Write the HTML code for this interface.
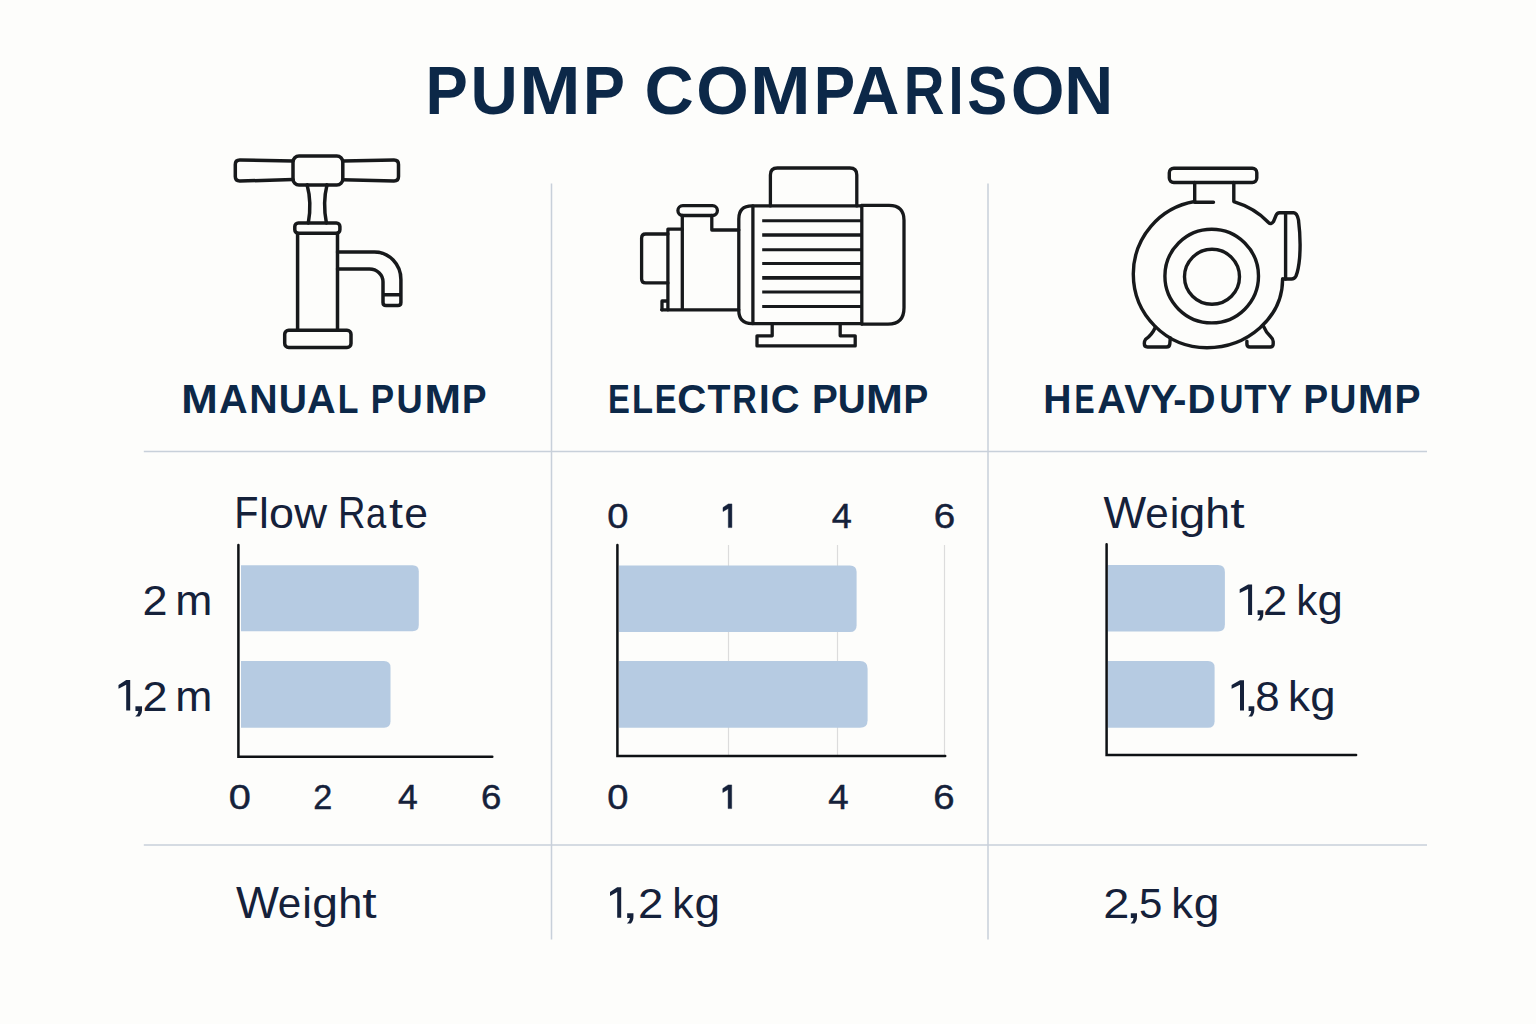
<!DOCTYPE html>
<html>
<head>
<meta charset="utf-8">
<style>
html,body{margin:0;padding:0;background:#fdfdfb;}
body{width:1536px;height:1024px;overflow:hidden;}
svg{display:block;}
text{font-family:"Liberation Sans",sans-serif;}
.hd text{fill:#0c2848;}
.bd text,.bd .t1{fill:#15213a;}
.tk text,.tk .t1{stroke:#15213a;stroke-width:0.45;}
.b{font-weight:bold;}
.ic{fill:none;stroke:#17191b;stroke-width:3.5;stroke-linejoin:round;stroke-linecap:round;}
.dv{stroke:#c8d0da;stroke-width:1.5;fill:none;}
.ax{stroke:#0e1114;stroke-width:2.5;fill:none;stroke-linecap:round;}
.gr{stroke:#dcdcdc;stroke-width:1.2;fill:none;}
.bar{fill:#b6cbe2;}
</style>
</head>
<body>
<svg width="1536" height="1024" viewBox="0 0 1536 1024">
<rect x="0" y="0" width="1536" height="1024" fill="#fdfdfb"/>

<!-- TITLE -->
<g class="hd">
<text class="b" font-size="68.9" transform="translate(425.56,113.60) scale(0.9207,1)">P</text>
<text class="b" font-size="68.9" transform="translate(470.47,113.60) scale(0.9490,1)">U</text>
<text class="b" font-size="68.9" transform="translate(519.37,113.60) scale(1.0690,1)">M</text>
<text class="b" font-size="68.9" transform="translate(582.89,113.60) scale(0.9130,1)">P</text>
<text class="b" font-size="68.9" transform="translate(644.50,113.60) scale(0.9901,1)">C</text>
<text class="b" font-size="68.9" transform="translate(696.13,113.60) scale(0.9797,1)">O</text>
<text class="b" font-size="68.9" transform="translate(750.03,113.60) scale(1.0565,1)">M</text>
<text class="b" font-size="68.9" transform="translate(813.85,113.60) scale(0.9002,1)">P</text>
<text class="b" font-size="68.9" transform="translate(851.45,113.60) scale(0.9627,1)">A</text>
<text class="b" font-size="68.9" transform="translate(903.73,113.60) scale(0.8186,1)">R</text>
<text class="b" font-size="68.9" transform="translate(948.38,113.60) scale(0.7859,1)">I</text>
<text class="b" font-size="68.9" transform="translate(967.37,113.60) scale(0.8697,1)">S</text>
<text class="b" font-size="68.9" transform="translate(1010.76,113.60) scale(1.0047,1)">O</text>
<text class="b" font-size="68.9" transform="translate(1064.16,113.60) scale(0.9850,1)">N</text>
<text class="b" font-size="40.5" transform="translate(181.26,413.10) scale(1.0841,1)">M</text>
<text class="b" font-size="40.5" transform="translate(219.11,413.10) scale(0.9790,1)">A</text>
<text class="b" font-size="40.5" transform="translate(249.27,413.10) scale(0.9702,1)">N</text>
<text class="b" font-size="40.5" transform="translate(278.65,413.10) scale(0.9653,1)">U</text>
<text class="b" font-size="40.5" transform="translate(307.11,413.10) scale(0.9790,1)">A</text>
<text class="b" font-size="40.5" transform="translate(337.63,413.10) scale(0.8372,1)">L</text>
<text class="b" font-size="40.5" transform="translate(370.86,413.10) scale(0.8639,1)">P</text>
<text class="b" font-size="40.5" transform="translate(396.62,413.10) scale(0.8955,1)">U</text>
<text class="b" font-size="40.5" transform="translate(424.46,413.10) scale(1.0841,1)">M</text>
<text class="b" font-size="40.5" transform="translate(461.94,413.10) scale(0.9075,1)">P</text>
<text class="b" font-size="40.5" transform="translate(608.01,413.10) scale(0.8098,1)">E</text>
<text class="b" font-size="40.5" transform="translate(631.99,413.10) scale(0.8516,1)">L</text>
<text class="b" font-size="40.5" transform="translate(654.82,413.10) scale(0.8054,1)">E</text>
<text class="b" font-size="40.5" transform="translate(677.15,413.10) scale(0.9932,1)">C</text>
<text class="b" font-size="40.5" transform="translate(707.48,413.10) scale(0.9267,1)">T</text>
<text class="b" font-size="40.5" transform="translate(732.22,413.10) scale(0.8402,1)">R</text>
<text class="b" font-size="40.5" transform="translate(758.95,413.10) scale(0.9428,1)">I</text>
<text class="b" font-size="40.5" transform="translate(770.76,413.10) scale(0.9857,1)">C</text>
<text class="b" font-size="40.5" transform="translate(811.91,413.10) scale(0.9555,1)">P</text>
<text class="b" font-size="40.5" transform="translate(837.87,413.10) scale(0.9571,1)">U</text>
<text class="b" font-size="40.5" transform="translate(866.03,413.10) scale(1.0947,1)">M</text>
<text class="b" font-size="40.5" transform="translate(903.62,413.10) scale(0.9162,1)">P</text>
<text class="b" font-size="40.5" transform="translate(1043.28,413.10) scale(0.9660,1)">H</text>
<text class="b" font-size="40.5" transform="translate(1074.48,413.10) scale(0.7438,1)">E</text>
<text class="b" font-size="40.5" transform="translate(1097.31,413.10) scale(0.9790,1)">A</text>
<text class="b" font-size="40.5" transform="translate(1124.13,413.10) scale(0.9675,1)">V</text>
<text class="b" font-size="40.5" transform="translate(1150.00,413.10) scale(1.0129,1)">Y</text>
<text class="b" font-size="40.5" transform="translate(1173.26,413.10) scale(0.9725,1)">-</text>
<text class="b" font-size="40.5" transform="translate(1187.40,413.10) scale(0.9582,1)">D</text>
<text class="b" font-size="40.5" transform="translate(1219.61,413.10) scale(0.8175,1)">U</text>
<text class="b" font-size="40.5" transform="translate(1244.29,413.10) scale(0.9015,1)">T</text>
<text class="b" font-size="40.5" transform="translate(1267.27,413.10) scale(0.9155,1)">Y</text>
<text class="b" font-size="40.5" transform="translate(1303.43,413.10) scale(0.9119,1)">P</text>
<text class="b" font-size="40.5" transform="translate(1329.46,413.10) scale(0.9202,1)">U</text>
<text class="b" font-size="40.5" transform="translate(1357.73,413.10) scale(1.0594,1)">M</text>
<text class="b" font-size="40.5" transform="translate(1394.49,413.10) scale(0.9642,1)">P</text>
</g>
<g class="bd">
<text font-size="44.3" transform="translate(234.24,527.60) scale(0.8960,1)">F</text>
<text font-size="44.3" transform="translate(258.91,527.60) scale(1.0017,0.94)">l</text>
<text font-size="44.3" transform="translate(268.91,527.60) scale(1.0135,0.94)">o</text>
<text font-size="44.3" transform="translate(294.17,527.60) scale(1.0260,0.94)">w</text>
<text font-size="44.3" transform="translate(337.98,527.60) scale(0.8592,1)">R</text>
<text font-size="44.3" transform="translate(366.05,527.60) scale(0.8218,0.94)">a</text>
<text font-size="44.3" transform="translate(389.04,527.60) scale(1.1403,0.94)">t</text>
<text font-size="44.3" transform="translate(404.19,527.60) scale(0.9621,0.94)">e</text>
<text font-size="44.3" transform="translate(1103.50,527.60) scale(1.0201,1)">W</text>
<text font-size="44.3" transform="translate(1145.21,527.60) scale(0.9525,0.94)">e</text>
<text font-size="44.3" transform="translate(1169.81,527.60) scale(0.9760,0.94)">i</text>
<text font-size="44.3" transform="translate(1179.11,527.60) scale(1.0692,0.94)">g</text>
<text font-size="44.3" transform="translate(1205.21,527.60) scale(1.0059,0.94)">h</text>
<text font-size="44.3" transform="translate(1230.32,527.60) scale(1.1668,0.94)">t</text>
<text font-size="44.3" transform="translate(235.90,917.60) scale(1.0273,1)">W</text>
<text font-size="44.3" transform="translate(277.71,917.60) scale(0.9525,0.94)">e</text>
<text font-size="44.3" transform="translate(302.21,917.60) scale(0.9760,0.94)">i</text>
<text font-size="44.3" transform="translate(312.16,917.60) scale(1.0441,0.94)">g</text>
<text font-size="44.3" transform="translate(338.29,917.60) scale(0.9792,0.94)">h</text>
<text font-size="44.3" transform="translate(362.32,917.60) scale(1.1668,0.94)">t</text>
<text font-size="44.3" transform="translate(142.54,614.80) scale(1.0158,0.975)">2</text>
<text font-size="44.3" transform="translate(175.34,614.80) scale(1.0051,0.94)">m</text>
<path class="t1" d="M126.20,680.05 L130.20,680.05 L130.20,710.50 L126.20,710.50 L126.20,684.70 L118.50,688.70 L118.50,684.90 Z"/>
<text font-size="44.3" transform="translate(129.08,710.50) scale(1.5640,1)">,</text>
<text font-size="44.3" transform="translate(142.54,710.50) scale(1.0158,0.975)">2</text>
<text font-size="44.3" transform="translate(175.34,710.50) scale(1.0051,0.94)">m</text>
<path class="t1" d="M1248.10,584.45 L1252.10,584.45 L1252.10,614.90 L1248.10,614.90 L1248.10,589.10 L1239.70,593.10 L1239.70,589.30 Z"/>
<text font-size="44.3" transform="translate(1252.10,614.90) scale(1.3570,1)">,</text>
<text font-size="44.3" transform="translate(1263.11,614.90) scale(0.9811,0.975)">2</text>
<text font-size="44.3" transform="translate(1296.16,614.90) scale(0.9516,0.94)">k</text>
<text font-size="44.3" transform="translate(1317.59,614.90) scale(1.0290,0.94)">g</text>
<path class="t1" d="M1240.00,680.15 L1244.00,680.15 L1244.00,710.60 L1240.00,710.60 L1240.00,684.80 L1231.60,688.80 L1231.60,685.00 Z"/>
<text font-size="44.3" transform="translate(1243.00,710.60) scale(1.3570,1)">,</text>
<text font-size="44.3" transform="translate(1255.29,710.60) scale(0.9910,0.975)">8</text>
<text font-size="44.3" transform="translate(1287.94,710.60) scale(0.9932,0.94)">k</text>
<text font-size="44.3" transform="translate(1310.29,710.60) scale(1.0290,0.94)">g</text>
<path class="t1" d="M617.20,887.25 L621.20,887.25 L621.20,917.70 L617.20,917.70 L617.20,891.90 L610.00,895.90 L610.00,892.10 Z"/>
<text font-size="44.3" transform="translate(620.95,917.70) scale(1.4950,1)">,</text>
<text font-size="44.3" transform="translate(637.91,917.70) scale(1.0257,0.975)">2</text>
<text font-size="44.3" transform="translate(672.31,917.70) scale(0.9672,0.94)">k</text>
<text font-size="44.3" transform="translate(694.57,917.70) scale(1.0391,0.94)">g</text>
<text font-size="44.3" transform="translate(1103.24,917.70) scale(1.0604,0.975)">2</text>
<text font-size="44.3" transform="translate(1124.64,917.70) scale(1.4720,1)">,</text>
<text font-size="44.3" transform="translate(1139.02,917.70) scale(0.9475,0.975)">5</text>
<text font-size="44.3" transform="translate(1171.17,917.70) scale(0.9828,0.94)">k</text>
<text font-size="44.3" transform="translate(1193.76,917.70) scale(1.0441,0.94)">g</text>
</g><g class="bd tk">
<text font-size="34.6" transform="translate(228.75,808.60) scale(1.1487,1)">0</text>
<text font-size="34.6" transform="translate(313.18,808.60) scale(0.9897,1)">2</text>
<text font-size="34.6" transform="translate(398.08,808.60) scale(1.0267,1)">4</text>
<text font-size="34.6" transform="translate(481.04,808.60) scale(1.0585,1)">6</text>
<text font-size="34.6" transform="translate(607.21,527.60) scale(1.1004,1)">0</text>
<path class="t1" d="M728.30,503.90 L731.90,503.90 L731.90,527.60 L728.30,527.60 L728.30,508.40 L723.00,511.50 L723.00,507.50 Z"/>
<text font-size="34.6" transform="translate(831.67,527.60) scale(1.0439,1)">4</text>
<text font-size="34.6" transform="translate(933.64,527.60) scale(1.1149,1)">6</text>
<text font-size="34.6" transform="translate(607.21,808.60) scale(1.1004,1)">0</text>
<path class="t1" d="M728.10,784.90 L731.70,784.90 L731.70,808.60 L728.10,808.60 L728.10,789.40 L722.80,792.50 L722.80,788.50 Z"/>
<text font-size="34.6" transform="translate(828.16,808.60) scale(1.0611,1)">4</text>
<text font-size="34.6" transform="translate(933.25,808.60) scale(1.1087,1)">6</text>
</g>


<!-- DIVIDERS -->
<path class="dv" d="M143.8,451.5 H1427 M143.8,844.9 H1427 M551.5,183.4 V939.6 M988,183.4 V939.6"/>

<!-- MANUAL PUMP ICON -->
<g class="ic" style="stroke-width:3.5">
  <path d="M293,161 L239.8,160.1 Q235.3,160.1 235.3,164.6 V176.5 Q235.3,181 239.8,181 L293,179.6"/>
  <path d="M342.8,160.9 L394,160.1 Q398.5,160.1 398.5,164.6 V176.5 Q398.5,181 394,181 L342.8,179.8"/>
  <rect x="293" y="156" width="49.8" height="28.9" rx="6"/>
  <path d="M307.1,184.9 Q312,203 308.3,223 M327,184.9 Q322.5,203 326.4,223"/>
  <rect x="294.8" y="223" width="45.1" height="10.3" rx="3.5"/>
  <path d="M297.6,233.3 V330.3 M337.5,233.3 V330.3"/>
  <rect x="284.7" y="330.3" width="66.3" height="17.2" rx="4"/>
  <path d="M337.5,252 H374.5 A26.4,27.5 0 0 1 400.9,279.5 V302.4 Q400.9,305.4 397.9,305.4 H386 Q383,305.4 383,302.4 V281.8 A13.5,12.9 0 0 0 369.5,268.9 H337.5 M383,294.7 H400.9"/>
</g>

<!-- ELECTRIC PUMP ICON -->
<g class="ic" style="stroke-width:3.3">
  <path d="M770.4,205.9 V175 Q770.4,168 777.4,168 H849.8 Q856.8,168 856.8,175 V205.9"/>
  <path d="M752,205.9 H861.8 V205.3 H889 Q904,205.3 904,220.3 V307.7 Q904,324.1 888,324.1 H861.8 V323.6 H752 Q738.8,323.6 738.8,310.6 V218.9 Q738.8,205.9 752,205.9 Z"/>
  <path d="M752.9,205.9 V323.6 M861.8,205.3 V324.1"/>
  <path d="M762.2,220.7 H861 M762.2,249.7 H861 M762.2,263.5 H861 M762.2,292 H861 M762.2,306.5 H861" style="stroke-linecap:butt;stroke-width:3"/>
  <path d="M762.2,235 H861 M762.2,277.9 H861" style="stroke-linecap:butt;stroke-width:3.7"/>
  <path d="M772.2,323.6 V335.8 H757 V345.9 H855.2 V335.8 H840.2 V323.6"/>
  <rect x="677.9" y="205.7" width="39.5" height="9.8" rx="4.9"/>
  <path d="M682.3,215.5 V309.8 M711.8,215.5 V230 H738.8 M661.7,309.8 H738.8"/>
  <path d="M682.3,229.2 H667.9 V309.8 M667.9,301 H662 V309.8"/>
  <path d="M667.9,234 H645.6 Q641.6,234 641.6,238 V278.9 Q641.6,282.9 645.6,282.9 H667.9"/>
</g>

<!-- HEAVY-DUTY PUMP ICON -->
<g class="ic" style="stroke-width:3.4">
  <rect x="1169.3" y="168.2" width="87.5" height="14.3" rx="4.5"/>
  <path d="M1194.7,182.5 V202.2 H1213.5"/>
  <path d="M1194.7,201.5 A73.6,73.6 0 0 0 1133.3,274.1 A73.6,73.6 0 0 0 1206.9,347.7 C1247,347.7 1282.6,318 1282.6,279"/>
  <path d="M1233.8,182.5 V201.6 Q1255,208 1268.5,222.5 Q1271,225 1273.5,221.5 L1276,215.5 Q1277,212.7 1279.5,212.7 H1293.8 Q1297,213 1298.5,220 Q1301,240 1299.6,258 Q1298.5,270 1296,276 Q1294.5,279 1291.5,279 H1282.6"/>
  <path d="M1285.6,212.7 V279"/>
  <circle cx="1211.7" cy="276.1" r="46.8"/>
  <circle cx="1212" cy="276.8" r="27.5"/>
  <path d="M1155.5,327 Q1152,335 1145.5,339.4 Q1144.3,341 1144.3,343.5 Q1144.3,347 1147.5,347 H1166.5 Q1169.5,347 1169.8,344 L1170.3,338"/>
  <path d="M1246.9,341.1 V344 Q1246.9,347 1250,347 H1270 Q1273.2,347 1273.2,344 V341.5 Q1273.2,339 1270.5,336.5 Q1266,332.5 1263.3,325.9"/>
</g>

<!-- HEADER LABELS -->

<!-- LEFT CHART -->
<path class="bar" d="M241,565.3 H412.5 Q418.8,565.3 418.8,571.6 V625 Q418.8,631.2 412.5,631.2 H241 Z"/>
<path class="bar" d="M241,661.1 H384 Q390.5,661.1 390.5,667.6 V721.3 Q390.5,727.8 384,727.8 H241 Z"/>
<path class="ax" d="M238.4,545 V756.8 H492.3"/>

<!-- MIDDLE CHART -->
<path class="gr" d="M728.5,545 V756 M837.5,545 V756 M944.5,545 V756"/>
<path class="bar" d="M619,565.4 H850 Q856.6,565.4 856.6,572 V625.5 Q856.6,632.1 850,632.1 H619 Z"/>
<path class="bar" d="M619,661.1 H860 Q867.6,661.1 867.6,668.7 V720.2 Q867.6,727.8 860,727.8 H619 Z"/>
<path class="ax" d="M617.4,545 V756.1 H945.2"/>

<!-- RIGHT CHART -->
<path class="bar" d="M1108,565 H1218 Q1224.9,565 1224.9,572 V624.4 Q1224.9,631.4 1218,631.4 H1108 Z"/>
<path class="bar" d="M1108,661.1 H1208 Q1214.6,661.1 1214.6,667.7 V721.2 Q1214.6,727.8 1208,727.8 H1108 Z"/>
<path class="ax" d="M1106.6,544.3 V755.1 H1356.1"/>

<!-- BOTTOM ROW -->
</svg>
</body>
</html>
